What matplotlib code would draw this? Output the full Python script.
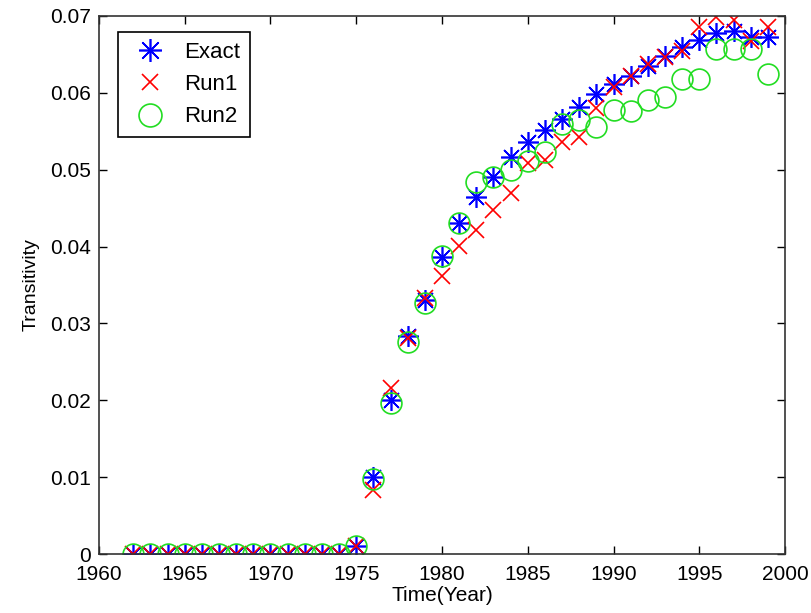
import numpy as np
import matplotlib.pyplot as plt

plt.rcParams['font.family'] = ['Liberation Sans', 'DejaVu Sans']

years = np.arange(1962, 2000)

exact = [0, 0, 0, 0, 0, 0, 0, 0, 0, 0, 0, 0, 0, 0.001,
         0.0100, 0.0200, 0.0284, 0.0331, 0.0387, 0.0431, 0.0464, 0.0491,
         0.0516, 0.0536, 0.0552, 0.0566, 0.0582, 0.0598, 0.0611, 0.0622,
         0.0635, 0.0648, 0.0660, 0.0669, 0.0678, 0.0680, 0.0673, 0.0673]

run1 = [0, 0, 0, 0, 0, 0, 0, 0, 0, 0, 0, 0, 0, 0.001,
        0.0083, 0.0216, 0.0281, 0.0333, 0.0362, 0.0401, 0.0422, 0.0448,
        0.0470, 0.0509, 0.0513, 0.0536, 0.0542, 0.0580, 0.0608, 0.0622,
        0.0637, 0.0647, 0.0654, 0.0685, 0.0698, 0.0695, 0.0667, 0.0686]

run2 = [0, 0, 0, 0, 0, 0, 0, 0, 0, 0, 0, 0, 0, 0.001,
        0.0098, 0.0197, 0.0276, 0.0327, 0.0388, 0.0431, 0.0484, 0.0491,
        0.0500, 0.0511, 0.0523, 0.0559, 0.0565, 0.0555, 0.0578, 0.0576,
        0.0591, 0.0594, 0.0618, 0.0618, 0.0657, 0.0657, 0.0657, 0.0624]

fig = plt.figure(figsize=(8.11, 6.13), dpi=100)
ax = fig.add_axes([0.122, 0.096, 0.846, 0.878])

ast = (8, 2, 0)  # matlab-style asterisk
ax.plot(years, exact, linestyle='none', marker=ast, color='blue',
        markersize=15, markeredgewidth=1.2, label='Exact')
ax.plot(years, run1, linestyle='none', marker='x', color='red',
        markersize=11, markeredgewidth=1.2, label='Run1')
ax.plot(years, run2, linestyle='none', marker='o', markerfacecolor='none',
        markeredgecolor='#22dd22', markersize=15, markeredgewidth=1.2, label='Run2')

ax.set_xlim(1960, 2000)
ax.set_ylim(0, 0.07)
ax.set_xticks(np.arange(1960, 2001, 5))
ax.set_yticks(np.arange(0, 0.071, 0.01))
ax.set_yticklabels(['0'] + ['%.2f' % v for v in np.arange(0.01, 0.071, 0.01)])
ax.tick_params(direction='in', top=True, right=True, labelsize=15, length=6, width=1)
ax.tick_params(axis='x', pad=8)
ax.tick_params(axis='y', pad=6)
for s in ax.spines.values():
    s.set_linewidth(1.2)
    s.set_color('#333333')

ax.set_xlabel('Time(Year)', fontsize=15, labelpad=1)
ax.set_ylabel('Transitivity', fontsize=14, labelpad=7)

leg = ax.legend(loc='upper left', bbox_to_anchor=(0.028, 0.970), borderaxespad=0,
                fontsize=16, fancybox=False, edgecolor='black', framealpha=1,
                handletextpad=0.5, borderpad=0.45, labelspacing=0.5,
                handlelength=2.0, markerscale=1.1)
leg.get_frame().set_linewidth(1.2)

fig.savefig('out.png', dpi=100)
